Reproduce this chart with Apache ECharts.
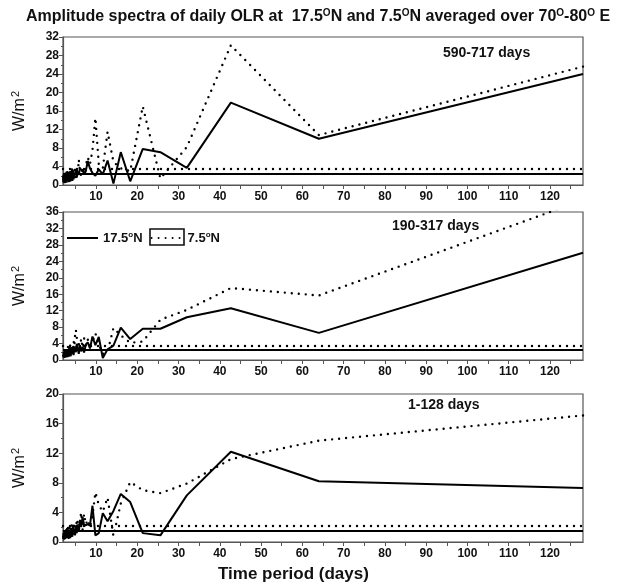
<!DOCTYPE html>
<html>
<head>
<meta charset="utf-8">
<script src="https://cdn.jsdelivr.net/npm/echarts@6/dist/echarts.min.js"></script>
<style>html,body{margin:0;padding:0;background:#fff}#c{width:636px;height:583px}</style>
</head>
<body>
<div id="c"></div>
<script>
// Periods (days) of the spectral estimates, 128/k for k = 1..64
const periods = [128, 64, 42.67, 32, 25.6, 21.33, 18.29, 16, 14.22, 12.8, 11.64, 10.67, 9.85, 9.14, 8.53, 8,
  7.53, 7.11, 6.74, 6.4, 6.1, 5.82, 5.57, 5.33, 5.12, 4.92, 4.74, 4.57, 4.41, 4.27, 4.13, 4,
  3.88, 3.76, 3.66, 3.56, 3.46, 3.37, 3.28, 3.2, 3.12, 3.05, 2.98, 2.91, 2.84, 2.78, 2.72, 2.67,
  2.61, 2.56, 2.51, 2.46, 2.42, 2.37, 2.33, 2.29, 2.25, 2.21, 2.17, 2.13, 2.1, 2.06, 2.03, 2.0];

// Panel 1: 590-717 days
const p1_175N = [24.0, 10.0, 17.8, 3.7, 7.1, 7.8, 0.8, 7.1, 0.3, 5.3, 2.3, 3.4, 2.0, 2.6, 3.6, 5.2,
  3.0, 2.4, 3.2, 2.8, 3.5, 2.2, 2.9, 1.6, 3.3, 2.1, 2.7, 1.2, 2.9, 0.9, 2.4, 1.8,
  3.0, 0.7, 2.2, 1.5, 2.8, 0.6, 1.9, 2.5, 0.8, 2.1, 1.4, 2.7, 0.5, 1.8, 2.3, 0.9,
  1.6, 2.6, 0.4, 1.9, 1.2, 2.4, 0.7, 1.5, 2.0, 0.6, 1.7, 1.1, 2.2, 0.8, 1.4, 1.0];
const p1_75N = [25.6, 10.8, 30.2, 8.2, 1.4, 17.0, 3.0, 3.6, 5.0, 11.5, 3.6, 4.5, 14.5, 7.5, 4.5, 6.0,
  4.2, 2.5, 3.8, 1.9, 3.1, 5.5, 2.2, 3.6, 1.4, 4.0, 2.7, 1.6, 3.3, 2.0, 3.9, 1.2,
  2.6, 3.4, 1.0, 2.3, 3.0, 1.5, 2.8, 0.8, 2.4, 3.2, 1.1, 2.0, 2.9, 0.9, 1.7, 2.5,
  1.3, 2.2, 0.7, 1.9, 2.6, 1.0, 1.6, 2.1, 0.8, 1.4, 1.9, 0.6, 1.3, 1.8, 0.9, 1.2];

// Panel 2: 190-317 days
const p2_175N = [26.1, 6.6, 12.6, 10.4, 7.6, 7.6, 5.1, 7.9, 3.5, 2.6, 0.5, 5.6, 3.6, 5.7, 2.8, 4.3,
  3.8, 1.8, 3.2, 2.1, 3.6, 1.5, 2.8, 3.9, 1.9, 2.6, 3.3, 1.2, 2.4, 3.0, 1.4, 2.7,
  0.9, 2.2, 1.6, 2.9, 0.8, 2.0, 1.3, 2.5, 0.7, 1.8, 2.3, 1.0, 1.9, 0.6, 2.1, 1.4,
  2.6, 0.8, 1.7, 1.1, 2.2, 0.5, 1.5, 1.9, 0.9, 1.3, 2.0, 0.6, 1.2, 1.6, 0.8, 1.1];
const p2_75N = [38.9, 15.7, 17.5, 12.2, 9.8, 4.5, 4.2, 6.0, 7.8, 2.0, 1.5, 3.8, 6.5, 4.5, 3.5, 5.0,
  3.5, 5.3, 3.0, 5.2, 2.6, 4.1, 3.2, 5.6, 7.3, 5.9, 3.4, 4.6, 2.2, 3.8, 1.8, 3.1,
  2.5, 4.0, 1.5, 2.8, 3.5, 1.2, 2.6, 3.3, 1.0, 2.2, 2.9, 1.4, 2.4, 0.9, 2.0, 2.7,
  1.1, 1.8, 2.3, 0.7, 1.6, 2.1, 1.0, 1.5, 1.9, 0.8, 1.3, 1.7, 0.9, 1.2, 1.5, 0.8];

// Panel 3: 1-128 days
const p3_175N = [7.3, 8.2, 12.2, 6.3, 0.9, 1.2, 5.4, 6.5, 4.2, 2.8, 3.9, 1.2, 0.9, 4.9, 2.2, 2.4,
  2.6, 2.2, 3.4, 2.0, 3.0, 1.6, 2.4, 1.2, 2.1, 0.9, 1.8, 1.4, 2.2, 0.7, 1.6, 1.1,
  1.9, 0.5, 1.5, 1.0, 1.7, 0.4, 1.3, 0.9, 1.8, 0.6, 1.2, 1.5, 0.5, 1.1, 1.6, 0.7,
  1.3, 0.4, 1.0, 1.4, 0.6, 1.2, 0.3, 0.9, 1.3, 0.5, 1.0, 0.7, 1.2, 0.4, 0.8, 0.6];
const p3_75N = [17.1, 13.7, 11.2, 7.9, 6.6, 7.0, 8.1, 5.2, 0.8, 6.0, 4.1, 5.0, 6.7, 3.5, 2.0, 3.0,
  2.4, 3.8, 1.6, 4.0, 2.8, 1.3, 2.5, 3.1, 1.0, 2.2, 1.7, 2.6, 0.8, 1.9, 2.3, 1.1,
  1.8, 0.6, 1.5, 2.1, 0.9, 1.6, 1.2, 2.0, 0.5, 1.4, 1.8, 0.8, 1.3, 1.7, 0.6, 1.2,
  1.5, 0.4, 1.1, 1.4, 0.7, 1.0, 1.3, 0.5, 0.9, 1.2, 0.4, 0.8, 1.0, 0.6, 0.7, 0.5];

// Significance levels [17.5N, 7.5N] per panel
const sigLevels = [[2.5, 3.6], [2.5, 3.5], [1.5, 2.15]];
const yMax = [32, 36, 20];
const panelLabels = ['590-717 days', '190-317 days', '1-128 days'];
const xTickLabels = [10, 20, 30, 40, 50, 60, 70, 80, 90, 100, 110, 120];
const xMinorTicks = [5, 10, 15, 20, 25, 30, 35, 40, 45, 50, 55, 60, 65, 70, 75, 80, 85, 90, 95, 100, 105, 110, 115, 120, 125];
const seriesNames = ['17.5°N', '7.5°N'];

const panels = [[p1_175N, p1_75N], [p2_175N, p2_75N], [p3_175N, p3_75N]];
const FONT = 'Liberation Sans';
const gridTops = [37, 212, 394];
const GH = 148;

const dotted = { type: [0, 7], cap: 'round', width: 2.4, color: '#000' };
const solid = { type: 'solid', width: 2, color: '#000' };

const grids = [], xAxes = [], yAxes = [], series = [];
gridTops.forEach((t, i) => {
  grids.push({ left: 63, right: 53, top: t, height: GH, show: true, borderColor: '#555', borderWidth: 1.2, backgroundColor: 'transparent' });
  xAxes.push({
    type: 'value', gridIndex: i, min: 2, max: 128,
    axisLine: { show: true, onZero: false, lineStyle: { color: '#555', width: 1.2 } },
    axisTick: { show: true, customValues: xMinorTicks, length: 4, lineStyle: { color: '#555' } },
    axisLabel: { customValues: xTickLabels, color: '#111', fontFamily: FONT, fontWeight: 'bold', fontSize: 12, margin: 6 },
    splitLine: { show: false }
  });
  yAxes.push({
    type: 'value', gridIndex: i, min: 0, max: yMax[i], interval: 4,
    name: '{a|W/m}{s|2}', nameLocation: 'middle', nameGap: 34, nameRotate: 90,
    nameTextStyle: { rich: { a: { fontFamily: FONT, fontSize: 16, color: '#111' }, s: { fontFamily: FONT, fontSize: 11, color: '#111', verticalAlign: 'bottom', padding: [0, 0, 8, 1] } } },
    axisLine: { show: true, lineStyle: { color: '#555', width: 1.2 } },
    axisTick: { show: true, length: 4, lineStyle: { color: '#555' } },
    minorTick: { show: true, splitNumber: 2, length: 2, lineStyle: { color: '#555' } },
    axisLabel: { color: '#111', fontFamily: FONT, fontWeight: 'bold', fontSize: 12, margin: 4 },
    splitLine: { show: false }
  });
  [0, 1].forEach(j => {
    series.push({
      name: seriesNames[j], type: 'line', xAxisIndex: i, yAxisIndex: i,
      data: periods.map((p, k) => [p, panels[i][j][k]]),
      symbol: 'none', showSymbol: false, lineStyle: j === 0 ? solid : dotted, itemStyle: { color: '#000' },
      clip: true, animation: false, z: j === 0 ? 3 : 2,
      markLine: {
        silent: true, symbol: 'none', label: { show: false }, animation: false,
        lineStyle: j === 0 ? solid : dotted,
        data: [{ yAxis: sigLevels[i][j] }]
      }
    });
  });
});

const titles = [{
  text: '{a|Amplitude spectra of daily OLR at  17.5}{s|O}{a|N and 7.5}{s|O}{a|N averaged over 70}{s|O}{a|-80}{s|O}{a| E}',
  left: 'center', top: 3,
  textStyle: { rich: {
    a: { fontFamily: FONT, fontWeight: 'bold', fontSize: 16, color: '#111' },
    s: { fontFamily: FONT, fontWeight: 'bold', fontSize: 10, color: '#111', verticalAlign: 'top', padding: [0, 0, 7, 0] }
  } }
}];
const labelLefts = [438, 387, 403];
const labelTops = [41, 214, 393];
panelLabels.forEach((t, i) => titles.push({
  text: t, left: labelLefts[i], top: labelTops[i],
  textStyle: { fontFamily: FONT, fontWeight: 'bold', fontSize: 14, color: '#111' }
}));
titles.push({ text: 'Time period (days)', left: 213, top: 561, textStyle: { fontFamily: FONT, fontWeight: 'bold', fontSize: 17, color: '#111' } });

const option = {
  backgroundColor: '#fff',
  animation: false,
  title: titles,
  grid: grids, xAxis: xAxes, yAxis: yAxes, series: series,
  legend: {
    data: seriesNames, left: 66, top: 231, padding: 0, itemWidth: 31, itemHeight: 12, itemGap: 8,
    selectedMode: false,
    itemStyle: { color: 'rgba(0,0,0,0)', borderWidth: 0, opacity: 0 },
    formatter: n => n === '17.5°N' ? '{a|17.5}{s|o}{a|N}' : '{a|7.5}{s|o}{a|N}',
    textStyle: { rich: {
      a: { fontFamily: FONT, fontWeight: 'bold', fontSize: 13, color: '#111' },
      s: { fontFamily: FONT, fontWeight: 'bold', fontSize: 8, color: '#111', verticalAlign: 'top', padding: [0, 0, 6, 0] }
    } }
  },
  graphic: [{ type: 'rect', shape: { x: 150, y: 229, width: 34, height: 16 }, style: { fill: 'none', stroke: '#111', lineWidth: 1.6 }, z: 100 }]
};
const chart = echarts.init(document.getElementById('c'), null, { renderer: 'canvas' });
chart.setOption(option);
</script>
</body>
</html>
